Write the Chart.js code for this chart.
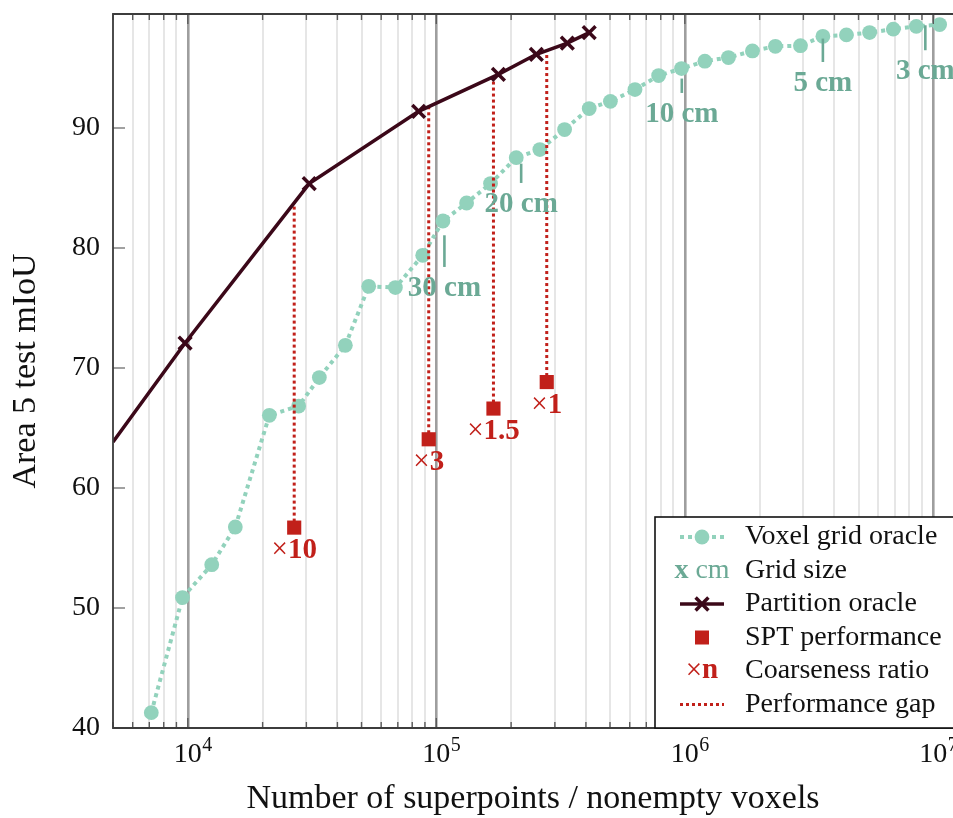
<!DOCTYPE html>
<html><head><meta charset="utf-8">
<script src="https://cdn.jsdelivr.net/npm/chart.js@4"></script>
<style>html,body{margin:0;padding:0;background:#fff;overflow:hidden}canvas{display:block}</style>
</head><body>
<canvas id="c" width="953" height="818"></canvas>
<script>
// ---- data ----
const voxelX = [7130, 9520, 12480, 15530, 21290, 27930, 33830, 43050, 53450, 68440, 88150, 106300, 132400, 165300, 209700, 261000, 328200, 412300, 501800, 630200, 784500, 969900, 1204000, 1498000, 1871000, 2314000, 2920000, 3594000, 4470000, 5540000, 6900000, 8541000, 10600000];
const voxelY = [41.28, 50.87, 53.61, 56.75, 66.06, 66.83, 69.2, 71.89, 76.81, 76.7, 79.39, 82.25, 83.75, 85.37, 87.53, 88.2, 89.87, 91.62, 92.22, 93.2, 94.37, 94.95, 95.57, 95.87, 96.42, 96.81, 96.86, 97.64, 97.76, 97.95, 98.24, 98.47, 98.62];
const partitionX = [5000, 9750, 30800, 84900, 177800, 252700, 336700, 412300];
const partitionY = [63.83, 72.08, 85.37, 91.39, 94.47, 96.14, 97.08, 97.95];
const sptX = [26800, 93200, 169800, 278200];
const sptY = [56.7, 64.06, 66.62, 68.83];
const ratioLabels = ['10', '3', '1.5', '1'];
const gridSizeLabels = ['30 cm', '20 cm', '10 cm', '5 cm', '3 cm'];
const gridSizeX = [107800, 219500, 972500, 3594000, 9286000];
const gridSizeTop = [81.06, 87.03, 94.12, 97.45, 98.56];
const gridSizeBottom = [78.42, 85.42, 92.92, 95.5, 96.48];
const yTicks = [40, 50, 60, 70, 80, 90];
const xDecades = [1e4, 1e5, 1e6, 1e7];
const xTickBase = '10';
const xTickExponents = ['4', '5', '6', '7'];
const legendLabels = ['Voxel grid oracle', 'Grid size', 'Partition oracle', 'SPT performance', 'Coarseness ratio', 'Performance gap'];
const xMin = 5000, xMax = 1.2e7, yMin = 40, yMax = 99.5;

// ---- styles ----
const TEAL = '#92d2bc', TEAL_DARK = '#6ba995', DARK = '#3b0819', RED = '#c1201a';
const SERIF = '"Liberation Serif", "Times New Roman", serif';

function isDecade(v) { return xDecades.indexOf(v) >= 0; }
function partitionAt(xv) {
  const lx = Math.log10(xv);
  for (let i = 0; i < partitionX.length - 1; i++) {
    const a = Math.log10(partitionX[i]), b = Math.log10(partitionX[i + 1]);
    if (lx >= a && lx <= b) { const t = (lx - a) / (b - a); return partitionY[i] + t * (partitionY[i + 1] - partitionY[i]); }
  }
  return partitionY[partitionY.length - 1];
}
const xGridValues = [];
for (let n = 3; n <= 7; n++) for (let m = 1; m <= 9; m++) { const v = m * Math.pow(10, n); if (v >= xMin && v <= xMax) xGridValues.push(v); }

const datasets = [];
datasets.push({
  label: 'Voxel grid oracle', order: 3,
  data: voxelX.map((v, i) => ({x: v, y: voxelY[i]})),
  borderColor: TEAL, borderWidth: 4, borderDash: [4, 4], borderCapStyle: 'butt',
  pointRadius: 7.4, pointBackgroundColor: TEAL, pointBorderWidth: 0, tension: 0
});
sptX.forEach((v, i) => {
  datasets.push({
    label: 'Performance gap', order: 2,
    data: [{x: v, y: sptY[i]}, {x: v, y: partitionAt(v)}],
    borderColor: RED, borderWidth: 3, borderDash: [3, 3], borderCapStyle: 'butt', pointRadius: 0
  });
});
datasets.push({
  label: 'Partition oracle', order: 1,
  data: partitionX.map((v, i) => ({x: v, y: partitionY[i]})),
  borderColor: DARK, borderWidth: 3.5, pointStyle: 'crossRot',
  pointRadius: partitionX.map((v, i) => i === 0 ? 0 : 9), pointBorderColor: DARK, pointBorderWidth: 3.5, tension: 0
});
datasets.push({
  label: 'SPT performance', order: 0, showLine: false,
  data: sptX.map((v, i) => ({x: v, y: sptY[i]})),
  pointStyle: 'rect', pointRadius: 10, pointBackgroundColor: RED, pointBorderWidth: 0
});

function mixedText(ctx, parts, cx, cy, size, color) {
  let total = 0;
  parts.forEach(p => { ctx.font = (p.bold ? 'bold ' : '') + size + 'px ' + SERIF; p.w = ctx.measureText(p.t).width; total += p.w; });
  let xx = cx - total / 2;
  ctx.fillStyle = color; ctx.textAlign = 'left'; ctx.textBaseline = 'middle';
  parts.forEach(p => { ctx.font = (p.bold ? 'bold ' : '') + size + 'px ' + SERIF; ctx.fillText(p.t, xx, cy); xx += p.w; });
}

const decor = {
  id: 'decor',
  afterDraw(chart) {
    const {ctx, chartArea: a, scales: {x, y}} = chart;
    ctx.save();
    const seg = (x1, y1, x2, y2) => { ctx.beginPath(); ctx.moveTo(x1, y1); ctx.lineTo(x2, y2); ctx.stroke(); };
    // grid size annotations
    ctx.strokeStyle = TEAL_DARK; ctx.lineWidth = 2.6;
    gridSizeX.forEach((v, i) => {
      const px = x.getPixelForValue(v), pt = y.getPixelForValue(gridSizeTop[i]), pb = y.getPixelForValue(gridSizeBottom[i]);
      seg(px, pt, px, pb);
      ctx.font = 'bold 29px ' + SERIF; ctx.fillStyle = TEAL_DARK; ctx.textAlign = 'center'; ctx.textBaseline = 'middle';
      ctx.fillText(gridSizeLabels[i], px, pb + 21.5);
    });
    // coarseness ratio labels
    sptX.forEach((v, i) => {
      const px = x.getPixelForValue(v), py = y.getPixelForValue(sptY[i]);
      mixedText(ctx, [{t: '\u00d7', bold: false}, {t: ratioLabels[i], bold: true}], px, py + 23, 29, RED);
    });
    // inward ticks
    ctx.strokeStyle = '#5a5a5a'; ctx.lineWidth = 1.4;
    xGridValues.forEach(v => {
      const px = x.getPixelForValue(v), len = isDecade(v) ? 10 : 6;
      seg(px, a.top, px, a.top + len); seg(px, a.bottom, px, a.bottom - len);
    });
    ctx.strokeStyle = '#8a8a8a'; ctx.lineWidth = 1.6;
    yTicks.forEach(v => { const py = y.getPixelForValue(v); seg(a.left, py, a.left + 12, py); });
    // frame
    ctx.strokeStyle = '#3c3c3c'; ctx.lineWidth = 1.8;
    ctx.beginPath(); ctx.moveTo(a.right + 5, a.top); ctx.lineTo(a.left, a.top); ctx.lineTo(a.left, a.bottom); ctx.lineTo(a.right + 5, a.bottom); ctx.stroke();
    // x tick labels (10 with raised exponent)
    ctx.fillStyle = '#111'; ctx.textBaseline = 'alphabetic';
    xDecades.forEach((v, i) => {
      const px = x.getPixelForValue(v);
      ctx.font = '28px ' + SERIF; ctx.textAlign = 'center';
      const w = ctx.measureText(xTickBase).width;
      ctx.fillText(xTickBase, px, a.bottom + 34);
      ctx.font = '20px ' + SERIF; ctx.textAlign = 'left';
      ctx.fillText(xTickExponents[i], px + w / 2 + 0.5, a.bottom + 23);
    });
    // legend
    const lx = 655, ly = 517, lb = a.bottom;
    ctx.fillStyle = '#fff'; ctx.fillRect(lx, ly, 320, lb - ly);
    ctx.strokeStyle = '#111'; ctx.lineWidth = 1.6; ctx.strokeRect(lx, ly, 320, lb - ly);
    const rows = [537, 570.5, 604, 637.5, 671, 704.5];
    const sx = 702, s1 = 680, s2 = 724;
    ctx.setLineDash([4, 4]); ctx.strokeStyle = TEAL; ctx.lineWidth = 4; seg(s1, rows[0], s2, rows[0]); ctx.setLineDash([]);
    ctx.fillStyle = TEAL; ctx.beginPath(); ctx.arc(sx, rows[0], 7.4, 0, Math.PI * 2); ctx.fill();
    mixedText(ctx, [{t: 'x', bold: true}, {t: ' cm', bold: false}], sx, rows[1], 28, TEAL_DARK);
    ctx.strokeStyle = DARK; ctx.lineWidth = 3.5; seg(s1, rows[2], s2, rows[2]);
    seg(sx - 6.4, rows[2] - 6.4, sx + 6.4, rows[2] + 6.4); seg(sx - 6.4, rows[2] + 6.4, sx + 6.4, rows[2] - 6.4);
    ctx.fillStyle = RED; ctx.fillRect(sx - 7, rows[3] - 7, 14, 14);
    mixedText(ctx, [{t: '\u00d7', bold: false}, {t: 'n', bold: true}], sx, rows[4], 29, RED);
    ctx.setLineDash([3, 3]); ctx.strokeStyle = RED; ctx.lineWidth = 3; seg(s1, rows[5], s2, rows[5]); ctx.setLineDash([]);
    ctx.fillStyle = '#111'; ctx.font = '28px ' + SERIF; ctx.textAlign = 'left'; ctx.textBaseline = 'middle';
    legendLabels.forEach((t, i) => ctx.fillText(t, 745, rows[i]));
    ctx.restore();
  }
};

new Chart(document.getElementById('c'), {
  type: 'line',
  data: {datasets},
  options: {
    responsive: false, animation: false, devicePixelRatio: 1,
    layout: {autoPadding: false, padding: {top: 14, left: 0, right: 0, bottom: 0}},
    plugins: {legend: {display: false}, tooltip: {enabled: false}},
    scales: {
      x: {
        type: 'logarithmic', min: xMin, max: xMax,
        afterBuildTicks: s => { s.ticks = xGridValues.map(v => ({value: v})); },
        afterFit: s => { s.height = 90; s.paddingLeft = 0; s.paddingRight = 0; },
        grid: {
          drawTicks: false,
          color: c => (c.tick && isDecade(c.tick.value)) ? '#9e9e9e' : '#e6e6e6',
          lineWidth: c => (c.tick && isDecade(c.tick.value)) ? 2.6 : 2
        },
        border: {display: false},
        ticks: {display: false},
        title: {display: true, text: 'Number of superpoints / nonempty voxels', color: '#111',
          font: {family: SERIF, size: 34, lineHeight: 1.1}, padding: {top: 0, bottom: 0}}
      },
      y: {
        type: 'linear', min: yMin, max: yMax,
        afterBuildTicks: s => { s.ticks = yTicks.map(v => ({value: v})); },
        afterFit: s => { s.width = 113; s.paddingTop = 0; s.paddingBottom = 0; },
        grid: {display: false, drawTicks: false},
        border: {display: false},
        ticks: {padding: 13, color: '#111', font: {family: SERIF, size: 28}},
        title: {display: true, text: 'Area 5 test mIoU', color: '#111',
          font: {family: SERIF, size: 34, lineHeight: 1.1}, padding: {top: 7, bottom: 0}}
      }
    }
  },
  plugins: [decor]
});
</script>
</body></html>
